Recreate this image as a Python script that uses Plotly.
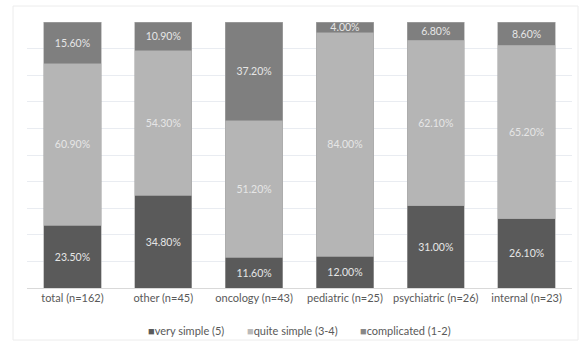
import plotly.graph_objects as go

categories = ["total (n=162)", "other (n=45)", "oncology (n=43)",
              "pediatric (n=25)", "psychiatric (n=26)", "internal (n=23)"]
very_simple = [23.5, 34.8, 11.6, 12.0, 31.0, 26.1]
quite_simple = [60.9, 54.3, 51.2, 84.0, 62.1, 65.2]
complicated = [15.6, 10.9, 37.2, 4.0, 6.8, 8.6]

series_names = ["very simple (5)", "quite simple (3-4)", "complicated (1-2)"]
series_values = [very_simple, quite_simple, complicated]
bar_colors = ["#5a5a5a", "#b5b5b5", "#7f7f7f"]
swatch_colors = ["#5a5a5a", "#bababa", "#888888"]

W, H = 581, 345
ml, mr, mt, mb = 27, 9, 22, 57
FONT = "Lato, Open Sans, sans-serif"

fig = go.Figure()
for name, vals, color in zip(series_names, series_values, bar_colors):
    fig.add_trace(go.Bar(
        name=name, x=categories, y=vals,
        marker=dict(color=color, line=dict(color="#a8a8a8", width=0.6)),
        text=[f"{v:.2f}%" for v in vals],
        textposition="inside", insidetextanchor="middle",
        textfont=dict(family=FONT, size=10.5, color="#e6e6e6"),
        textangle=0, showlegend=False,
    ))

fig.update_layout(
    width=W, height=H,
    barmode="stack", bargap=0.37,
    margin=dict(l=ml, r=mr, t=mt, b=mb, autoexpand=False),
    paper_bgcolor="white", plot_bgcolor="white",
    font=dict(family=FONT, size=11, color="#595959"),
    uniformtext=dict(minsize=9, mode="show"),
    showlegend=False,
    xaxis=dict(showgrid=False, showline=True, linecolor="#d9d9d9", linewidth=1,
               ticks="", tickfont=dict(size=11, color="#595959")),
    yaxis=dict(range=[0, 100], dtick=10, showgrid=True, gridcolor="#e9ecf1",
               gridwidth=1, showticklabels=False, zeroline=False, showline=False),
)

pw = W - ml - mr
ph = H - mt - mb

# legend row: one left-anchored entry per series with a square swatch
legend_x = [146, 245, 358]
legend_y = (H - mb - 330) / ph
for name, sw, px in zip(series_names, swatch_colors, legend_x):
    fig.add_annotation(
        xref="paper", yref="paper", x=(px - ml) / pw, y=legend_y,
        xanchor="left", yanchor="middle", showarrow=False,
        text=f"<span style='color:{sw};font-size:11px'>■</span>{name}",
        font=dict(family=FONT, size=11, color="#595959"))

# outer chart frame
x0 = (13 - ml) / pw
x1 = (578 - ml) / pw
y0 = (H - 340 - mb) / ph
y1 = (H - 6 - mb) / ph
fig.add_shape(type="rect", xref="paper", yref="paper", x0=x0, x1=x1, y0=y0, y1=y1,
              line=dict(color="#ececec", width=1), fillcolor="rgba(0,0,0,0)", layer="below")

fig.write_html("out.html")
